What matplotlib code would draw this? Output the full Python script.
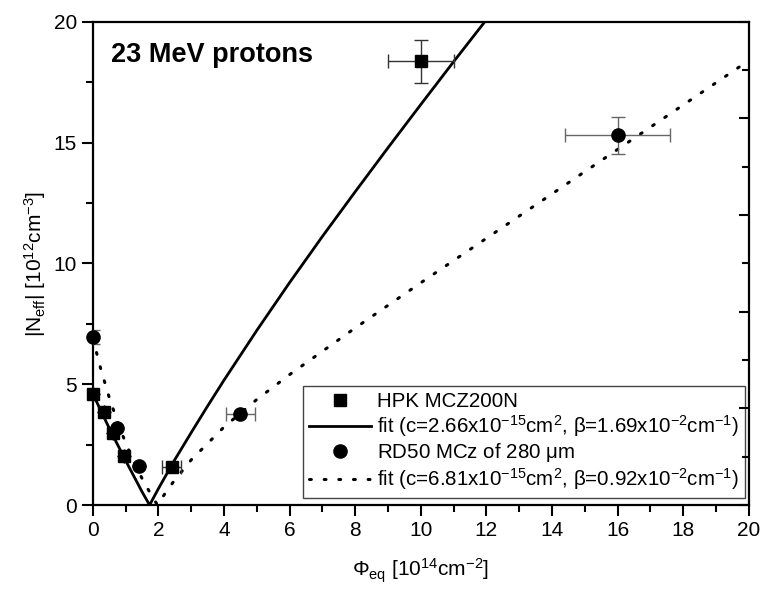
import numpy as np
import matplotlib
matplotlib.use('Agg')
from matplotlib import pyplot as plt
from matplotlib.ticker import MultipleLocator, NullFormatter

plt.rcParams['font.family'] = ['Liberation Sans', 'DejaVu Sans']
plt.rcParams['mathtext.fontset'] = 'custom'
plt.rcParams['mathtext.rm'] = 'Liberation Sans'
plt.rcParams['mathtext.it'] = 'Liberation Sans'

# HPK MCZ200N data
hpk_phi   = [0.0, 0.35, 0.6, 0.95, 2.4, 10.0]
hpk_neff  = [4.6, 3.87, 2.97, 2.03, 1.56, 18.36]
hpk_xerr  = [0.0, 0.0, 0.0, 0.0, 0.3, 1.0]
hpk_yerr  = [0.0, 0.0, 0.0, 0.0, 0.0, 0.9]

# RD50 MCz 280 um data
rd_phi    = [0.0, 0.75, 1.4, 4.5, 16.0]
rd_neff   = [6.95, 3.18, 1.63, 3.78, 15.3]
rd_xerr   = [0.0, 0.0, 0.0, 0.45, 1.6]
rd_yerr   = [0.3, 0.0, 0.0, 0.0, 0.76]

# fit curves
fit1_phi  = [0.0, 0.5, 1.0, 1.5, 1.73, 2.0, 2.5, 3.0, 3.5, 4.0, 5.0, 6.0, 7.0,
             8.0, 9.0, 10.0, 11.0, 12.0]
fit1_neff = [4.6, 3.18, 1.84, 0.55, 0.0, 0.68, 1.88, 3.0, 4.1, 5.17, 7.23, 9.21, 11.12,
             12.97, 14.79, 16.58, 18.35, 20.09]
fit2_phi  = [0.0, 0.25, 0.5, 0.75, 1.0, 1.25, 1.5, 1.75, 1.97, 2.25, 2.5, 3.0, 4.0,
             5.0, 6.0, 8.0, 10.0, 14.0, 20.0]
fit2_neff = [6.9, 5.59, 4.45, 3.45, 2.57, 1.80, 1.10, 0.49, 0.0, 0.58, 1.04, 1.87, 3.23,
             4.37, 5.40, 7.33, 9.2, 12.88, 18.4]

fig = plt.figure(figsize=(7.61, 5.90), dpi=100)
ax = fig.add_axes([0.122, 0.144, 0.862, 0.819])

l1, = ax.plot(fit1_phi, fit1_neff, color='k', lw=2.0, zorder=2)
l2, = ax.plot(fit2_phi, fit2_neff, color='k', lw=2.2, linestyle=(0, (0.6, 4.2)),
              dash_capstyle='round', zorder=2)

ax.errorbar(hpk_phi, hpk_neff, xerr=hpk_xerr, yerr=hpk_yerr, fmt='none',
            ecolor='#333333', elinewidth=1.0, capsize=5, capthick=1.0, zorder=3)
ax.errorbar(rd_phi, rd_neff, xerr=rd_xerr, yerr=rd_yerr, fmt='none',
            ecolor='#666666', elinewidth=1.0, capsize=5, capthick=1.0, zorder=3)
m1, = ax.plot(hpk_phi, hpk_neff, 's', color='k', ms=8.5, ls='none', zorder=4, clip_on=False)
m2, = ax.plot(rd_phi, rd_neff, 'o', color='k', ms=9.5, ls='none', zorder=4, clip_on=False)

ax.set_xlim(0, 20)
ax.set_ylim(0, 20)

ax.xaxis.set_major_locator(MultipleLocator(2))
ax.xaxis.set_minor_locator(MultipleLocator(1))
ax.yaxis.set_major_locator(MultipleLocator(5))
ax.yaxis.set_minor_locator(MultipleLocator(2.5))
ax.tick_params(which='both', direction='out', top=False, right=False, width=1.5,
               labelsize=15)
ax.tick_params(which='major', length=8)
ax.tick_params(which='minor', length=5)
for s in ax.spines.values():
    s.set_linewidth(1.6)

# right side ticks (inward, every 2)
ax2 = ax.twinx()
ax2.set_ylim(0, 20)
ax2.yaxis.set_major_locator(MultipleLocator(4))
ax2.yaxis.set_minor_locator(MultipleLocator(2))
ax2.yaxis.set_major_formatter(NullFormatter())
ax2.tick_params(which='both', direction='in', width=1.5)
ax2.tick_params(which='major', length=7)
ax2.tick_params(which='minor', length=5)
for s in ax2.spines.values():
    s.set_visible(False)

ax.set_xlabel(r'$\Phi_{\rm eq}$ [10$^{14}$cm$^{-2}$]', fontsize=15, labelpad=12)
ax.set_ylabel(r'|N$_{\rm eff}$| [10$^{12}$cm$^{-3}$]', fontsize=15, labelpad=4)

ax.text(0.027, 0.958, '23 MeV protons', transform=ax.transAxes, fontsize=19.5,
        fontweight='bold', va='top', ha='left')

leg = ax.legend([m1, l1, m2, l2],
                ['HPK MCZ200N',
                 r'fit (c=2.66x10$^{-15}$cm$^{2}$, $\beta$=1.69x10$^{-2}$cm$^{-1}$)',
                 r'RD50 MCz of 280 $\mu$m',
                 r'fit (c=6.81x10$^{-15}$cm$^{2}$, $\beta$=0.92x10$^{-2}$cm$^{-1}$)'],
                loc='lower right', bbox_to_anchor=(0.994, 0.014), fontsize=14.8,
                frameon=True, fancybox=False, edgecolor='#444444', framealpha=1,
                handlelength=3.0, handletextpad=0.3, borderpad=0.3, labelspacing=0.1,
                borderaxespad=0.0)
leg.get_frame().set_linewidth(1.0)

fig.savefig('out.png', dpi=100)
